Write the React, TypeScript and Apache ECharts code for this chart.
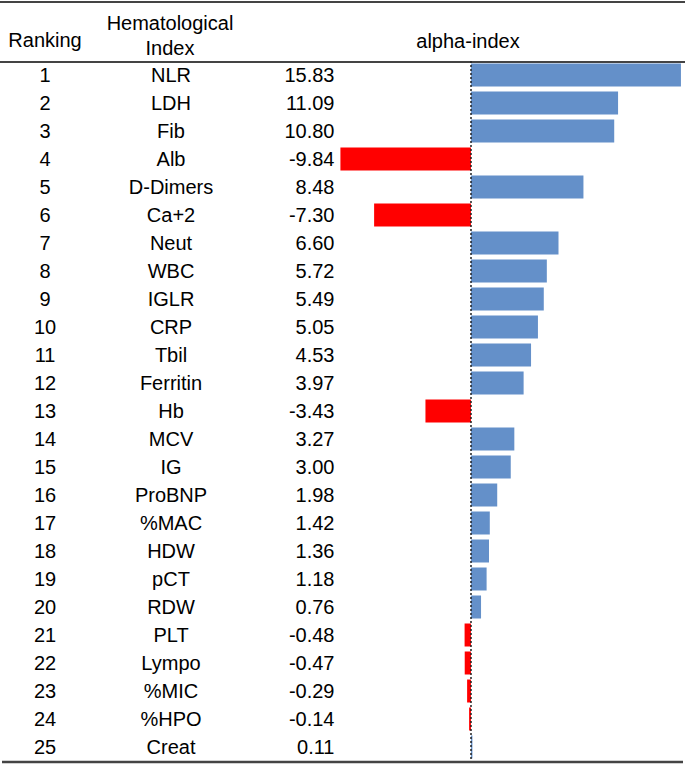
import React, { useEffect, useRef } from "react";
import * as echarts from "echarts";

const rankings = ["1","2","3","4","5","6","7","8","9","10","11","12","13","14","15","16","17","18","19","20","21","22","23","24","25"];
const indices = ["NLR","LDH","Fib","Alb","D-Dimers","Ca+2","Neut","WBC","IGLR","CRP","Tbil","Ferritin","Hb","MCV","IG","ProBNP","%MAC","HDW","pCT","RDW","PLT","Lympo","%MIC","%HPO","Creat"];
const alphaValues = [15.83,11.09,10.80,-9.84,8.48,-7.30,6.60,5.72,5.49,5.05,4.53,3.97,-3.43,3.27,3.00,1.98,1.42,1.36,1.18,0.76,-0.48,-0.47,-0.29,-0.14,0.11];
const headers = { ranking: "Ranking", index1: "Hematological", index2: "Index", alpha: "alpha-index" };

const FONT = "'Liberation Sans', Arial, sans-serif";
const POS = "#6490C9";
const NEG = "#FF0000";

export default function App() {
  const ref = useRef<HTMLDivElement>(null);
  useEffect(() => {
    if (!ref.current) return;
    const chart = echarts.init(ref.current, undefined, { renderer: "svg" });
    const gridLeft = 338.3;
    const gridWidth = 344.9;
    const cats = indices.map((_, i) => String(i));
    const baseAxis = {
      type: "category" as const,
      data: cats,
      inverse: true,
      gridIndex: 0,
      axisLine: { show: false },
      axisTick: { show: false },
      splitLine: { show: false },
    };
    const labelStyle = { fontFamily: FONT, fontSize: 20, color: "#000" };
    chart.setOption({
      animation: false,
      backgroundColor: "#fff",
      grid: { left: gridLeft, top: 61, width: gridWidth, height: 700, containLabel: false },
      xAxis: {
        type: "value",
        min: -10,
        max: 16,
        show: false,
      },
      yAxis: [
        { ...baseAxis, axisLabel: { show: false } },
        {
          ...baseAxis,
          position: "left",
          axisLabel: { ...labelStyle, align: "center", margin: gridLeft - 45, formatter: (v: string) => rankings[Number(v)] },
        },
        {
          ...baseAxis,
          position: "left",
          axisLabel: { ...labelStyle, align: "center", margin: gridLeft - 171, formatter: (v: string) => indices[Number(v)] },
        },
        {
          ...baseAxis,
          position: "left",
          axisLabel: { ...labelStyle, align: "right", margin: gridLeft - 334.5, formatter: (v: string) => alphaValues[Number(v)].toFixed(2) },
        },
      ],
      series: [
        {
          type: "bar",
          yAxisIndex: 0,
          barWidth: 23,
          data: alphaValues.map((v) => ({ value: v, itemStyle: { color: v < 0 ? NEG : POS } })),
          markLine: {
            silent: true,
            symbol: ["none", "none"],
            label: { show: false },
            lineStyle: { color: "#222", type: [2, 2], width: 1.5 },
            data: [{ xAxis: 0 }],
          },
        },
      ],
      graphic: [
        { type: "line", shape: { x1: 0, y1: 2, x2: 685, y2: 2 }, style: { stroke: "#444", lineWidth: 2 } },
        { type: "line", shape: { x1: 0, y1: 62, x2: 685, y2: 62 }, style: { stroke: "#444", lineWidth: 2 } },
        { type: "line", shape: { x1: 2, y1: 762, x2: 683, y2: 762 }, style: { stroke: "#444", lineWidth: 2.5 } },
        { type: "text", x: 45, y: 40, style: { text: headers.ranking, font: `20px ${FONT}`, fill: "#000", textAlign: "center", textVerticalAlign: "middle" } },
        { type: "text", x: 170, y: 23, style: { text: headers.index1, font: `20px ${FONT}`, fill: "#000", textAlign: "center", textVerticalAlign: "middle" } },
        { type: "text", x: 170, y: 48, style: { text: headers.index2, font: `20px ${FONT}`, fill: "#000", textAlign: "center", textVerticalAlign: "middle" } },
        { type: "text", x: 468, y: 41, style: { text: headers.alpha, font: `20px ${FONT}`, fill: "#000", textAlign: "center", textVerticalAlign: "middle" } },
      ],
    });
    return () => chart.dispose();
  }, []);
  return (
    <div
      ref={ref}
      style={{ position: "absolute", left: 0, top: 0, width: 685, height: 765, background: "#fff" }}
    />
  );
}
